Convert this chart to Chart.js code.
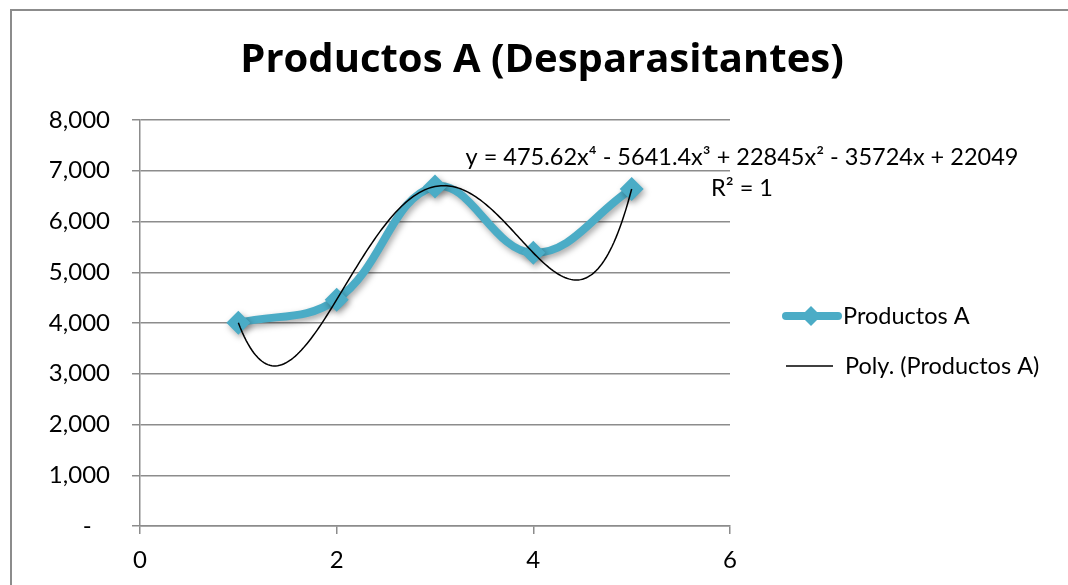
<!DOCTYPE html>
<html>
<head>
<meta charset="utf-8">
<title>Productos A (Desparasitantes)</title>
<script src="https://cdn.jsdelivr.net/npm/chart.js@4.4.0/dist/chart.umd.min.js"></script>
<style>
  html, body { margin: 0; padding: 0; background: #fff; overflow: hidden; }
  #wrap { position: relative; width: 1068px; height: 585px; }
  #frame {
    position: absolute; left: 10px; top: 9px; width: 1200px; height: 700px;
    border-left: 2px solid #8c8c8c; border-top: 2px solid #8c8c8c;
  }
  #chart { position: absolute; left: 0; top: 0; }
</style>
</head>
<body>
<div id="wrap">
  <div id="frame"></div>
  <canvas id="chart" width="1068" height="585"></canvas>
</div>
<script>
// Series data
const xValues = [1, 2, 3, 4, 5];
const productValues = [4004, 4460, 6689, 5382, 6642];
const seriesLabel = 'Productos A';

// Polynomial trendline, coefficients from x^0 to x^4
const trendCoefs = [22049, -35724, 22845, -5641.4, 475.62];
const trendLabel = 'Poly. (Productos A)';
const trendEquation = 'y = 475.62x⁴ - 5641.4x³ + 22845x² - 35724x + 22049';
const trendR2 = 'R² = 1';

const chartTitle = 'Productos A (Desparasitantes)';

const FONT = 'Lato, "Noto Sans", sans-serif';
const TITLE_FONT = '"Open Sans", Lato, sans-serif';
const TEAL = '#4bacc6';
const GRID = '#8c8c8c';

function polyAt(x) {
    return trendCoefs.reduce((sum, c, i) => sum + c * Math.pow(x, i), 0);
}

// Soft drop shadow under the main series
const seriesShadow = {
    id: 'seriesShadow',
    beforeDatasetDraw(chart) {
        const ctx = chart.ctx;
        ctx.save();
        ctx.shadowColor = 'rgba(0, 0, 0, 0.35)';
        ctx.shadowBlur = 6;
        ctx.shadowOffsetX = 2;
        ctx.shadowOffsetY = 3;
    },
    afterDatasetDraw(chart) {
        chart.ctx.restore();
    }
};

// Trendline, equation, title and legend
const overlay = {
    id: 'overlay',
    afterDatasetsDraw(chart) {
        const { ctx, scales: { x, y } } = chart;
        const x0 = xValues[0];
        const x1 = xValues[xValues.length - 1];
        const steps = 200;

        ctx.save();
        ctx.beginPath();
        for (let i = 0; i <= steps; i++) {
            const xv = x0 + (x1 - x0) * i / steps;
            const px = x.getPixelForValue(xv);
            const py = y.getPixelForValue(polyAt(xv));
            if (i === 0) ctx.moveTo(px, py); else ctx.lineTo(px, py);
        }
        ctx.strokeStyle = '#000';
        ctx.lineWidth = 1.5;
        ctx.stroke();
        ctx.restore();
    },
    afterDraw(chart) {
        const ctx = chart.ctx;
        ctx.save();
        ctx.fillStyle = '#000';
        ctx.textBaseline = 'middle';

        // title
        ctx.font = 'bold 40px ' + TITLE_FONT;
        ctx.textAlign = 'center';
        ctx.fillText(chartTitle, 542, 61);

        // trendline label
        ctx.font = '23.5px ' + FONT;
        ctx.fillText(trendEquation, 742, 157);
        ctx.fillText(trendR2, 742, 188);

        // legend
        ctx.textAlign = 'left';
        ctx.lineCap = 'round';
        ctx.strokeStyle = TEAL;
        ctx.lineWidth = 8;
        ctx.beginPath();
        ctx.moveTo(786, 316);
        ctx.lineTo(838, 316);
        ctx.stroke();
        ctx.fillStyle = TEAL;
        ctx.beginPath();
        ctx.moveTo(811, 306);
        ctx.lineTo(821, 316);
        ctx.lineTo(811, 326);
        ctx.lineTo(801, 316);
        ctx.closePath();
        ctx.fill();

        ctx.lineCap = 'butt';
        ctx.strokeStyle = '#000';
        ctx.lineWidth = 1.5;
        ctx.beginPath();
        ctx.moveTo(786, 366);
        ctx.lineTo(833, 366);
        ctx.stroke();

        ctx.font = '23.5px ' + FONT;
        ctx.fillStyle = '#000';
        ctx.fillText(seriesLabel, 843, 316);
        ctx.fillText(trendLabel, 845, 366);
        ctx.restore();
    }
};

const ctx = document.getElementById('chart').getContext('2d');
new Chart(ctx, {
    type: 'scatter',
    data: {
        datasets: [{
            label: seriesLabel,
            data: xValues.map((xv, i) => ({ x: xv, y: productValues[i] })),
            showLine: true,
            borderColor: TEAL,
            backgroundColor: TEAL,
            borderWidth: 8,
            tension: 0.4,
            pointStyle: 'rectRot',
            pointRadius: 12,
            pointBorderWidth: 0,
            pointBackgroundColor: TEAL
        }]
    },
    options: {
        responsive: false,
        animation: false,
        layout: { padding: { left: 0, top: 120, right: 338, bottom: 0 } },
        plugins: {
            legend: { display: false },
            title: { display: false },
            tooltip: { enabled: false }
        },
        scales: {
            x: {
                type: 'linear',
                min: 0,
                max: 6,
                ticks: {
                    stepSize: 2,
                    color: '#000',
                    padding: 12,
                    font: { family: FONT, size: 24 }
                },
                grid: {
                    drawOnChartArea: false,
                    drawTicks: true,
                    tickLength: 8,
                    color: GRID,
                    lineWidth: 1.5
                },
                border: { color: GRID, width: 1.5 },
                afterFit(scale) { scale.height = 59; }
            },
            y: {
                min: 0,
                max: 8000,
                ticks: {
                    stepSize: 1000,
                    color: '#000',
                    padding: 22,
                    font: { family: FONT, size: 24 },
                    callback: v => v === 0 ? '-   ' : v.toLocaleString('en-US')
                },
                grid: {
                    drawTicks: true,
                    tickLength: 8,
                    color: GRID,
                    lineWidth: 1.5
                },
                border: { color: GRID, width: 1.5 },
                afterFit(scale) { scale.width = 140; }
            }
        }
    },
    plugins: [seriesShadow, overlay]
});
</script>
</body>
</html>
